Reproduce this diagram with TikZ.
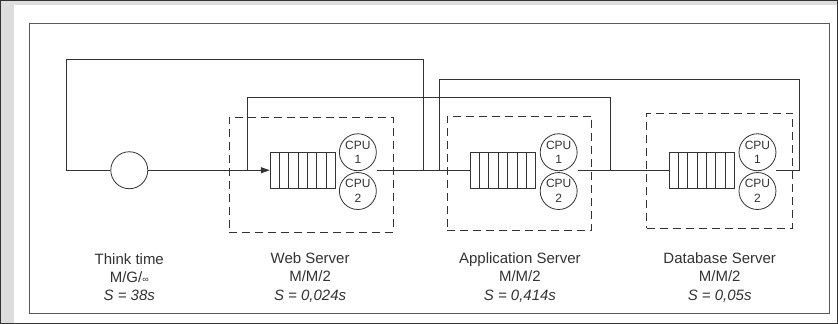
\documentclass[tikz,border=0pt]{standalone}
\usepackage{fontspec}
\setmainfont{Liberation Sans}
\usepackage{tikz}
\usetikzlibrary{positioning,calc,arrows.meta}

\definecolor{bggray}{HTML}{DDDDDD}
\definecolor{linegray}{HTML}{333333}

\begin{document}
\begin{tikzpicture}[
    x=1pt, y=-1pt,
    every path/.style={line width=0.8pt, draw=linegray},
    thinknode/.style={circle, draw, minimum size=37pt, inner sep=0pt},
    queuenode/.style={rectangle, draw, minimum width=65pt, minimum height=36pt, inner sep=0pt},
    cpunode/.style={circle, draw, minimum size=37pt, inner sep=0pt, align=center,
                    font=\fontsize{12}{14.5}\selectfont, text=linegray},
    serverbox/.style={rectangle, draw, dash pattern=on 8pt off 5pt, inner sep=0pt},
    labelnode/.style={align=center, font=\fontsize{15}{18.5}\selectfont, text=linegray},
  ]
  % background and frame
  \fill[bggray] (0,0) rectangle (838,323);
  \fill[white] (14,5) rectangle (838,323);
  \draw[line width=1pt, draw=black!65] (29,23) rectangle (830,313);
  \useasboundingbox (0,0) rectangle (838,323);

  % think time
  \node[thinknode] (T)                         at (129,170)   {};
  % web server
  \node[serverbox, minimum width=164pt, minimum height=115pt] (Wbox) at (311,174.5) {};
  \node[queuenode] (Wq)                        at (302.5,170) {};
  \node[cpunode]   (Wc1) [right=3.5pt of Wq.east, yshift=18pt] {CPU\\1};
  \node[cpunode]   (Wc2) [below=1pt of Wc1]    {CPU\\2};
  % application server
  \node[serverbox, minimum width=145pt, minimum height=114pt] (Abox) at (519.5,173) {};
  \node[queuenode] (Aq)                        at (503,170)   {};
  \node[cpunode]   (Ac1) [right=4pt of Aq.east, yshift=18pt]  {CPU\\1};
  \node[cpunode]   (Ac2) [below=1pt of Ac1]    {CPU\\2};
  % database server
  \node[serverbox, minimum width=146pt, minimum height=115pt] (Dbox) at (720,170.5) {};
  \node[queuenode] (Dq)                        at (702,170)   {};
  \node[cpunode]   (Dc1) [right=4pt of Dq.east, yshift=18pt]  {CPU\\1};
  \node[cpunode]   (Dc2) [below=1pt of Dc1]    {CPU\\2};

  % queue slots
  \foreach \q in {Wq,Aq,Dq}
    \foreach \k in {1,...,6}
      \draw ($(\q.north west)!\k/7!(\q.north east)$) -- ($(\q.south west)!\k/7!(\q.south east)$);

  % labels
  \node[labelnode] (Tlab) at (129,277) {Think time\\M/G/{\fontsize{9}{9}\selectfont ∞}\\\textit{S = 38s}};
  \node[labelnode] (Wlab) at (310,277) {Web Server\\M/M/2\\\textit{S = 0,024s}};
  \node[labelnode] (Alab) at (520,277) {Application Server\\M/M/2\\\textit{S = 0,414s}};
  \node[labelnode] (Dlab) at (720,277) {Database Server\\M/M/2\\\textit{S = 0,05s}};

  % junctions on the main line
  \coordinate (Wout) at (Wc1.east |- Wq.east);
  \coordinate (Aout) at (Ac1.east |- Aq.east);
  \coordinate (Dout) at (Dc1.east |- Dq.east);
  \coordinate (J1)   at (423,170);
  \coordinate (L1)   at (66,59);
  \coordinate (J2)   at (247,170);
  \coordinate (L2)   at (611,97);
  \coordinate (J2b)  at (611,170);
  \coordinate (J3)   at (439,170);
  \coordinate (L3)   at (800,79);
  \coordinate (J3b)  at (800,170);

  % flow
  \draw[-{Triangle[length=9pt,width=6pt]}] (T.east) -- (Wq.west);
  \draw (Wout) -- (Aq.west);
  \draw (Aout) -- (Dq.west);
  \draw (Dout) -- (J3b);
  % return paths
  \draw (T.west) -| (L1) -| (J1);
  \draw (J2) |- (L2) -- (J2b);
  \draw (J3b) -- (L3) -| (J3);
\end{tikzpicture}
\end{document}
